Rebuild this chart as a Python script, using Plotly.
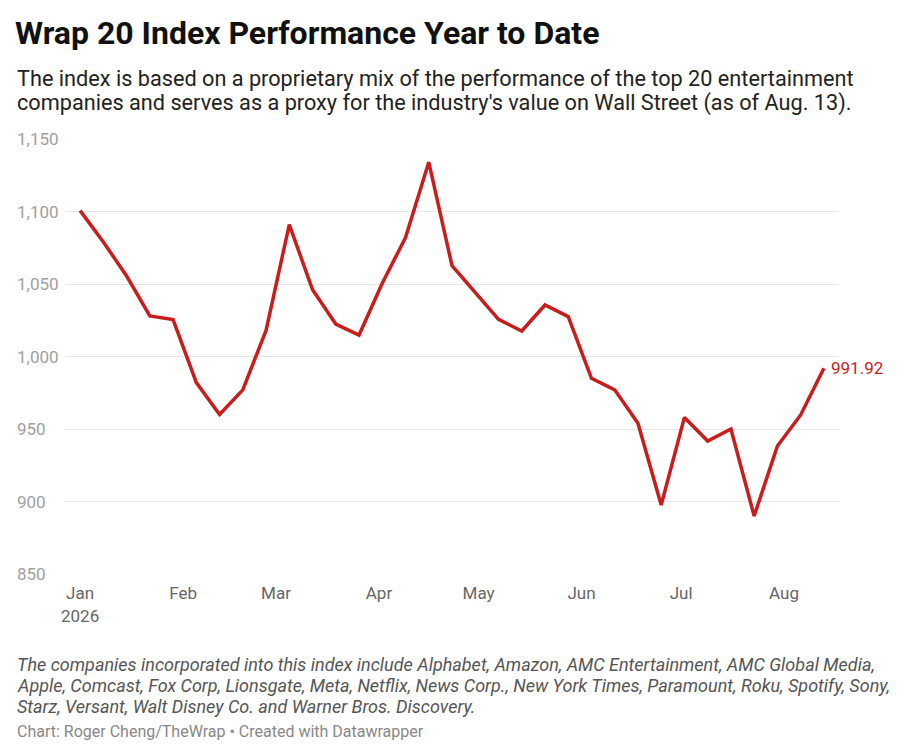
import pandas as pd
import plotly.graph_objects as go

# weekly index values (Thursdays)
dates = pd.date_range("2026-01-01", "2026-08-13", freq="7D")
values = [1100.6, 1079, 1055.5, 1028, 1025.5, 982, 960, 977, 1018, 1091,
          1046, 1022.4, 1014.8, 1050.5, 1082, 1134, 1062.6, 1044.5, 1025.6, 1017.6,
          1035.5, 1027.5, 985, 977, 954, 897.6, 958, 941.7, 950, 890,
          938.3, 959.7, 991.92]

y_ticks = [850, 900, 950, 1000, 1050, 1100, 1150]
x_tick_dates = ["2026-01-01", "2026-02-01", "2026-03-01", "2026-04-01",
                "2026-05-01", "2026-06-01", "2026-07-01", "2026-08-01"]
x_tick_text = ["Jan<br>2026", "Feb", "Mar", "Apr", "May", "Jun", "Jul", "Aug"]

title = "Wrap 20 Index Performance Year to Date"
subtitle = ["The index is based on a proprietary mix of the performance of the top 20 entertainment",
            "companies and serves as a proxy for the industry's value on Wall Street (as of Aug. 13)."]
notes = ["The companies incorporated into this index include Alphabet, Amazon, AMC Entertainment, AMC Global Media,",
         "Apple, Comcast, Fox Corp, Lionsgate, Meta, Netflix, News Corp., New York Times, Paramount, Roku, Spotify, Sony,",
         "Starz, Versant, Walt Disney Co. and Warner Bros. Discovery."]
credit = "Chart: Roger Cheng/TheWrap • Created with Datawrapper"

RED = "#c71e1d"
FONT = "Roboto"

# page has an 8px body margin, so work in figure pixels = screen - 8
W, H = 892, 748
L, R, T, B = 58, 830, 131, 566


def py(pix):
    # pixel row -> paper y
    return (B - pix) / (B - T)


def px(pix):
    return (pix - L) / (R - L)


fig = go.Figure()
fig.add_trace(go.Scatter(x=dates, y=values, mode="lines",
                         line=dict(color=RED, width=3.5),
                         hoverinfo="x+y", showlegend=False))

ann = []
# subtitle
for i, line in enumerate(subtitle):
    ann.append(dict(text=line, x=px(7), y=py(70 + 25 * i), xref="paper", yref="paper",
                    xanchor="left", yanchor="middle", showarrow=False,
                    font=dict(family=FONT, size=21.7, color="#222")))
# footnotes
for i, line in enumerate(notes):
    ann.append(dict(text="<i>" + line + "</i>", x=px(7), y=py(656 + 21 * i), xref="paper",
                    yref="paper", xanchor="left", yanchor="middle", showarrow=False,
                    font=dict(family=FONT, size=18, color="#555")))
ann.append(dict(text=credit, x=px(7), y=py(723), xref="paper", yref="paper",
                xanchor="left", yanchor="middle", showarrow=False,
                font=dict(family=FONT, size=16, color="#888")))
# y labels, left aligned like datawrapper
for t in y_ticks:
    ann.append(dict(text=f"{t:,}", x=px(7), y=t, xref="paper", yref="y",
                    xanchor="left", yanchor="middle", showarrow=False,
                    font=dict(family=FONT, size=17, color="#a0a0a0")))
# end label
ann.append(dict(text=f"{values[-1]:.2f}", x=dates[-1], y=values[-1], xref="x", yref="y",
                xanchor="left", yanchor="middle", xshift=5, showarrow=False,
                font=dict(family=FONT, size=17, color=RED)))

fig.update_layout(
    width=W, height=H,
    margin=dict(l=L, r=W - R, t=T, b=H - B),
    paper_bgcolor="white", plot_bgcolor="white",
    title=dict(text="<b>" + title + "</b>", x=7 / W, y=1 - 25 / H,
               xref="container", yref="container", xanchor="left", yanchor="middle",
               font=dict(family=FONT, size=32, color="#111")),
    annotations=ann,
    font=dict(family=FONT),
)

fig.update_xaxes(
    range=["2025-12-27 18:00", "2026-08-17 06:00"],
    tickvals=x_tick_dates, ticktext=x_tick_text,
    showgrid=False, zeroline=False, showline=False,
    ticks="outside", ticklen=4, tickcolor="rgba(0,0,0,0)",
    tickfont=dict(family=FONT, size=17, color="#666"),
)
fig.update_yaxes(
    range=[850, 1150], tickvals=y_ticks, showticklabels=False,
    showgrid=True, gridcolor="#e5e5e5", gridwidth=1,
    zeroline=False, showline=False,
)

fig.write_html("out.html")
